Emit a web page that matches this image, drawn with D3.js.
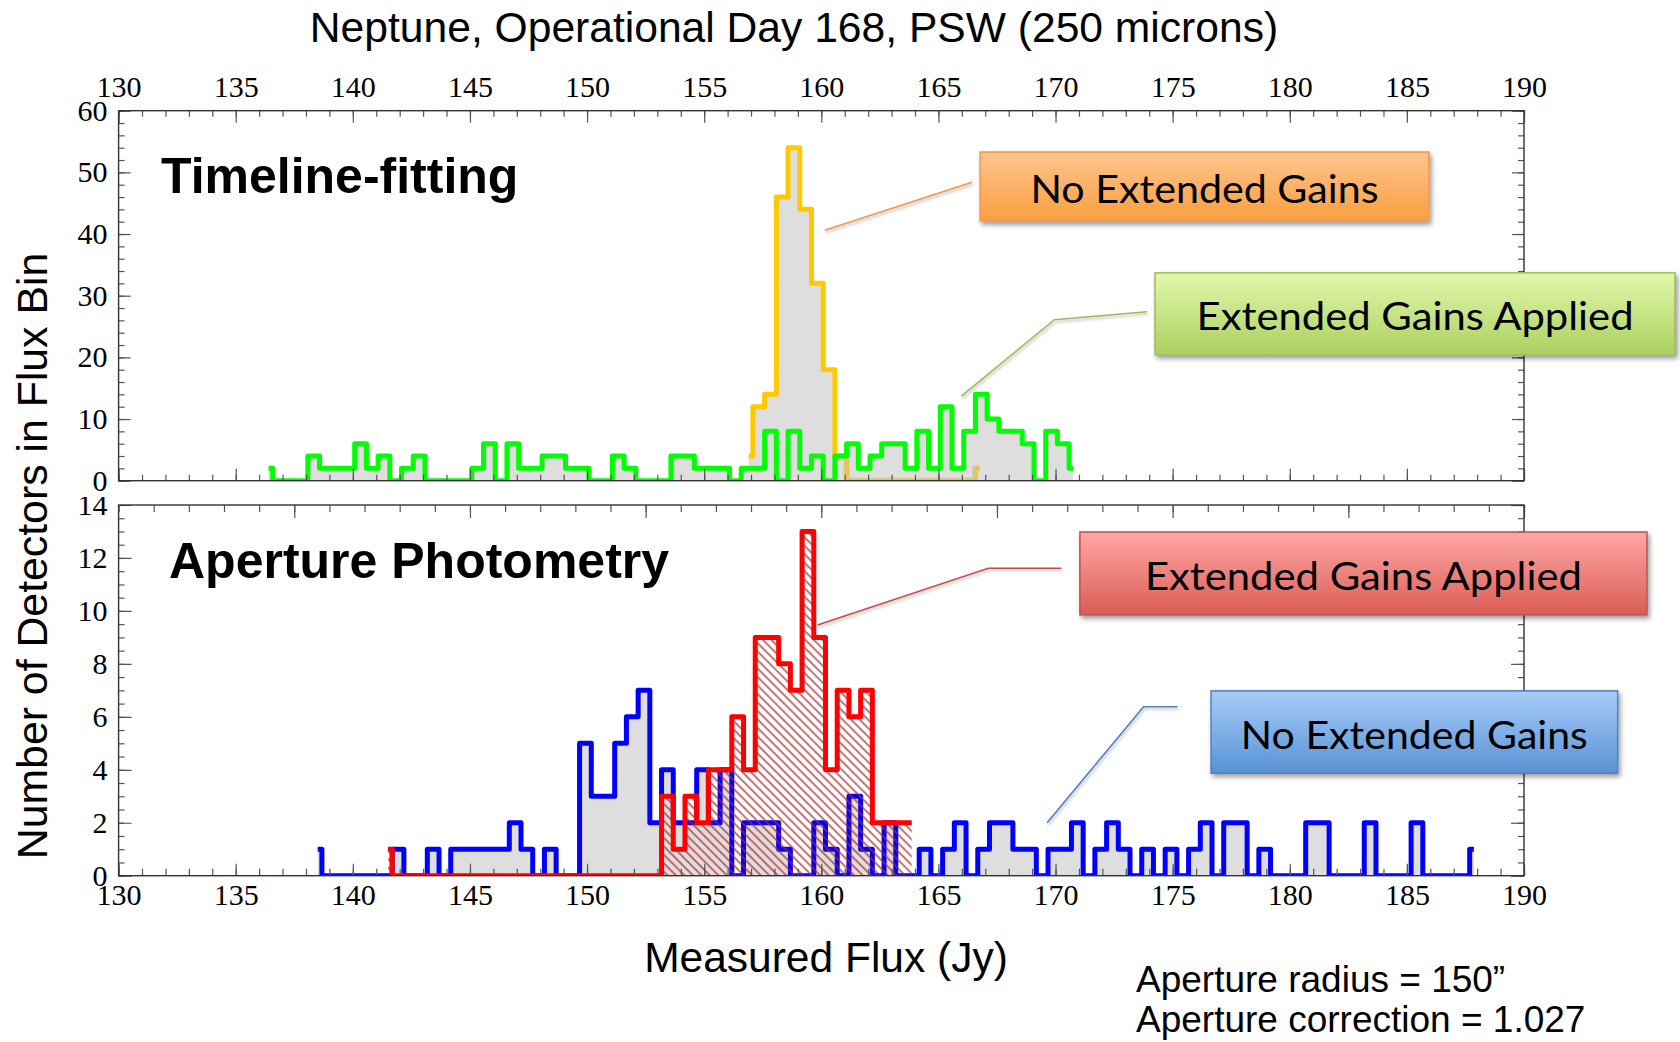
<!DOCTYPE html>
<html>
<head>
<meta charset="utf-8">
<script src="https://d3js.org/d3.v7.min.js"></script>
<style>
  body{margin:0;background:#fff;}
  svg{display:block;}
</style>
</head>
<body>
<div id="chart"></div>
<script>
// all histograms use 0.5 Jy bins; *Start = left edge of the first bin
var binWidth = 0.5;

// Timeline-fitting, extended gains applied (green)
var tlGainsStart = 136.08;
var tlGains = [2,0,0,0,4,2,2,2,6,2,4,0,2,4,0,0,0,0,2,6,0,6,2,2,4,4,2,2,0,0,
               4,2,0,0,0,4,4,2,2,2,0,2,2,8,0,8,2,4,0,4,6,2,4,6,6,2,8,2,12,2,
               8,14,10,8,8,6,0,8,6,2];
// Timeline-fitting, no extended gains (orange)
var tlNoGainsStart = 156.58;
var tlNoGains = [4,12,14,46,54,44,32,18,4,0,0,0,0,0,0,0,0,0,0,0,2];

// Aperture photometry, no extended gains (blue)
var apNoGainsStart = 138.18;
var apNoGains = [1,0,0,0,0,0,0,1,0,0,1,0,1,1,1,1,1,2,1,0,1,0,0,5,3,3,5,6,7,2,
                 4,2,2,4,2,4,0,2,2,2,1,0,0,2,1,0,3,1,0,2,0,0,1,0,1,2,0,1,2,2,
                 1,1,0,1,1,2,0,1,2,1,0,1,0,1,0,1,2,0,2,2,0,1,0,0,0,2,2,0,0,0,
                 2,0,0,0,2,0,0,0,0,1];
// Aperture photometry, extended gains applied (red, hatched)
var apGainsStart = 141.18;
var apGains = [1,0,0,0,0,0,0,0,0,0,0,0,0,0,0,0,0,0,0,0,0,0,0,0,3,1,3,2,4,4,
               6,4,9,9,8,7,13,9,4,7,6,7,2,2,2,2];

var fluxTicks = [130,135,140,145,150,155,160,165,170,175,180,185,190];
var topCountTicks = [0,10,20,30,40,50,60];
var botCountTicks = [0,2,4,6,8,10,12,14];

// callout boxes, in data units of their panel: [x0, x1, yTop, yBottom]
var callouts = [
  {panel:"top", text:"No Extended Gains", box:[166.78,185.94,53.3,42.1],
   leader:[[160.15,40.6],[166.43,48.4]], c0:"#FFC58F", c1:"#F99E3E", border:"#F79646", len:348},
  {panel:"top", text:"Extended Gains Applied", box:[174.25,196.45,33.7,20.4],
   leader:[[165.98,13.7],[169.95,26.1],[173.91,27.4]], c0:"#E2F8AC", c1:"#ABD05F", border:"#9BBB59", len:437},
  {panel:"bot", text:"Extended Gains Applied", box:[171.04,195.25,12.98,9.85],
   leader:[[159.84,9.47],[167.13,11.61],[170.25,11.61]], c0:"#FFA8A5", c1:"#DA5C55", border:"#C0504D", len:437},
  {panel:"bot", text:"No Extended Gains", box:[176.64,194.0,6.98,3.87],
   leader:[[169.64,2.0],[173.76,6.38],[175.21,6.38]], c0:"#A8CCF7", c1:"#5792D6", border:"#4F81BD", len:347}
];

var svg = d3.select("#chart").append("svg").attr("width",1680).attr("height",1042);
var defs = svg.append("defs");

var x = d3.scaleLinear().domain([130,190]).range([118.6,1524]);
var yTop = d3.scaleLinear().domain([0,60]).range([480.7,110.7]);
var yBot = d3.scaleLinear().domain([0,14]).range([875.7,505]);

// points for a step outline; first and last bin only drawn as a short stub
function stepPoints(start, vals){
  var stub = 0.18, pts = [];
  pts.push([start + binWidth - stub, vals[0]]);
  for (var i = 1; i < vals.length; i++) pts.push([start + i*binWidth, vals[i]]);
  pts.push([start + (vals.length-1)*binWidth + stub, vals[vals.length-1]]);
  return pts;
}
function stepLine(y){
  return d3.line().curve(d3.curveStepAfter).x(function(d){return x(d[0]);}).y(function(d){return y(d[1]);});
}
function stepArea(y){
  return d3.area().curve(d3.curveStepAfter).x(function(d){return x(d[0]);}).y0(y(0)).y1(function(d){return y(d[1]);});
}

// defs: clips, hatch, shadows, mask
defs.append("clipPath").attr("id","clipTop").append("rect")
  .attr("x",x(130)).attr("y",yTop(60)).attr("width",x(190)-x(130)).attr("height",yTop(0)-yTop(60));
defs.append("clipPath").attr("id","clipBot").append("rect")
  .attr("x",x(130)).attr("y",yBot(14)).attr("width",x(190)-x(130)).attr("height",yBot(0)-yBot(14));
// the top panel hides the upper part of the "14" label (coords local to the left axis group)
defs.append("clipPath").attr("id","clipBotLabels").append("rect")
  .attr("x",-x(130)).attr("y",yBot(14)-8).attr("width",x(130)+30).attr("height",1042);

var hatch = defs.append("pattern").attr("id","hatch").attr("width",6).attr("height",6)
  .attr("patternUnits","userSpaceOnUse").attr("patternTransform","rotate(-45)");
hatch.append("line").attr("x1",3).attr("y1",-1).attr("x2",3).attr("y2",7)
  .attr("stroke","#b02828").attr("stroke-width",1.3);

var sh = defs.append("filter").attr("id","shadow").attr("x","-10%").attr("y","-20%").attr("width","130%").attr("height","160%");
sh.append("feDropShadow").attr("dx",2).attr("dy",3).attr("stdDeviation",2.5).attr("flood-color","#000").attr("flood-opacity",0.4);
var sh2 = defs.append("filter").attr("id","shadow2").attr("x","-10%").attr("y","-30%").attr("width","130%").attr("height","180%");
sh2.append("feDropShadow").attr("dx",1).attr("dy",2).attr("stdDeviation",1.5).attr("flood-color","#000").attr("flood-opacity",0.3);

callouts.forEach(function(c,i){
  var g = defs.append("linearGradient").attr("id","grad"+i).attr("x1",0).attr("y1",0).attr("x2",0).attr("y2",1);
  g.append("stop").attr("offset","0%").attr("stop-color",c.c0);
  g.append("stop").attr("offset","100%").attr("stop-color",c.c1);
});

var greenPts = stepPoints(tlGainsStart, tlGains);
var orangePts = stepPoints(tlNoGainsStart, tlNoGains);
var bluePts = stepPoints(apNoGainsStart, apNoGains);
var redPts = stepPoints(apGainsStart, apGains);
var lw = 5;

// orange outline where it sits under the green fill is washed out
defs.append("mask").attr("id","orangeMask").attr("maskUnits","userSpaceOnUse")
  .attr("x",0).attr("y",0).attr("width",1680).attr("height",1042)
  .append("path").attr("d",stepLine(yTop)(orangePts))
  .attr("fill","none").attr("stroke","#fff").attr("stroke-width",lw+1.5);

// ---------- bottom panel ----------
var botPanel = svg.append("g");
var botData = botPanel.append("g").attr("clip-path","url(#clipBot)");
botData.append("path").attr("d",stepArea(yBot)(bluePts)).attr("fill","#dedede");
botData.append("path").attr("d",stepLine(yBot)(bluePts)).attr("fill","none")
  .attr("stroke","#0000ff").attr("stroke-width",lw).attr("stroke-linejoin","round");
botData.append("path").attr("d",stepArea(yBot)(redPts)).attr("fill","url(#hatch)");
botData.append("path").attr("d",stepLine(yBot)(redPts)).attr("fill","none")
  .attr("stroke","#ff0000").attr("stroke-width",lw).attr("stroke-linejoin","round");

// ---------- top panel ----------
var topPanel = svg.append("g");
var topData = topPanel.append("g").attr("clip-path","url(#clipTop)");
topData.append("path").attr("d",stepArea(yTop)(orangePts)).attr("fill","#dedede");
topData.append("path").attr("d",stepArea(yTop)(greenPts)).attr("fill","#dedede");
topData.append("path").attr("d",stepLine(yTop)(orangePts)).attr("fill","none")
  .attr("stroke","#ffc800").attr("stroke-width",lw).attr("stroke-linejoin","round");
topData.append("path").attr("d",stepArea(yTop)(greenPts)).attr("fill","rgb(196,196,196)")
  .attr("fill-opacity",0.5).attr("mask","url(#orangeMask)");
topData.append("path").attr("d",stepLine(yTop)(greenPts)).attr("fill","none")
  .attr("stroke","#00ff00").attr("stroke-width",lw).attr("stroke-linejoin","round");

// ---------- frames and ticks ----------
function styleAxis(g){
  g.select(".domain").remove();
  g.selectAll(".tick line").attr("stroke","#555").attr("stroke-width",1.2);
  g.attr("font-family","'Liberation Serif', 'Times New Roman', serif").attr("font-size",30);
  g.selectAll(".tick text").attr("fill","#000");
}
function addAxis(parent, axis, tx, ty){
  return parent.append("g").attr("transform","translate("+tx+","+ty+")").call(axis).call(styleAxis);
}

var minorFlux = d3.range(130,190.001,1);
var topMinorCount = d3.range(0,60.001,2);
var botMinorCount = d3.range(0,14.001,0.5);
var botTopMinor = d3.range(130,190.001,1.5);
var botTopMajor = d3.range(137.5,190.001,7.5);

// top panel
addAxis(topPanel, d3.axisTop(x).tickValues(minorFlux).tickSize(-6).tickFormat(""), 0, yTop(60));
addAxis(topPanel, d3.axisTop(x).tickValues(fluxTicks).tickSize(-12).tickPadding(14).tickFormat(d3.format("d")), 0, yTop(60));
addAxis(topPanel, d3.axisBottom(x).tickValues(minorFlux).tickSize(-6).tickFormat(""), 0, yTop(0));
addAxis(topPanel, d3.axisBottom(x).tickValues(fluxTicks).tickSize(-12).tickFormat(""), 0, yTop(0));
addAxis(topPanel, d3.axisLeft(yTop).tickValues(topMinorCount).tickSize(-6).tickFormat(""), x(130), 0);
addAxis(topPanel, d3.axisLeft(yTop).tickValues(topCountTicks).tickSize(-12).tickPadding(11).tickFormat(d3.format("d")), x(130), 0);
addAxis(topPanel, d3.axisRight(yTop).tickValues(topMinorCount).tickSize(-6).tickFormat(""), x(190), 0);
addAxis(topPanel, d3.axisRight(yTop).tickValues(topCountTicks).tickSize(-12).tickFormat(""), x(190), 0);
topPanel.append("rect").attr("x",x(130)).attr("y",yTop(60)).attr("width",x(190)-x(130)).attr("height",yTop(0)-yTop(60))
  .attr("fill","none").attr("stroke","#333").attr("stroke-width",1.4);

// bottom panel
addAxis(botPanel, d3.axisTop(x).tickValues(botTopMinor).tickSize(-7).tickFormat(""), 0, yBot(14));
addAxis(botPanel, d3.axisTop(x).tickValues(botTopMajor).tickSize(-13).tickFormat(""), 0, yBot(14));
addAxis(botPanel, d3.axisBottom(x).tickValues(minorFlux).tickSize(-7).tickFormat(""), 0, yBot(0));
addAxis(botPanel, d3.axisBottom(x).tickValues(fluxTicks).tickSize(-12).tickPadding(8).tickFormat(d3.format("d")), 0, yBot(0));
addAxis(botPanel, d3.axisLeft(yBot).tickValues(botMinorCount).tickSize(-6).tickFormat(""), x(130), 0);
addAxis(botPanel, d3.axisLeft(yBot).tickValues(botCountTicks).tickSize(-13).tickPadding(11).tickFormat(d3.format("d")), x(130), 0)
  .attr("clip-path","url(#clipBotLabels)");
addAxis(botPanel, d3.axisRight(yBot).tickValues(botMinorCount).tickSize(-6).tickFormat(""), x(190), 0);
addAxis(botPanel, d3.axisRight(yBot).tickValues(botCountTicks).tickSize(-13).tickFormat(""), x(190), 0);
botPanel.append("rect").attr("x",x(130)).attr("y",yBot(14)).attr("width",x(190)-x(130)).attr("height",yBot(0)-yBot(14))
  .attr("fill","none").attr("stroke","#333").attr("stroke-width",1.4);

// ---------- texts ----------
var sans = "'Liberation Sans', Arial, Helvetica, sans-serif";
svg.append("text").attr("x",794).attr("y",42).attr("text-anchor","middle")
  .attr("font-family",sans).attr("font-size",42.6).text("Neptune, Operational Day 168, PSW (250 microns)");
svg.append("text").attr("transform","translate(47,556) rotate(-90)").attr("text-anchor","middle")
  .attr("font-family",sans).attr("font-size",42.8).text("Number of Detectors in Flux Bin");
svg.append("text").attr("x",826).attr("y",972).attr("text-anchor","middle")
  .attr("font-family",sans).attr("font-size",42.5).text("Measured Flux (Jy)");
svg.append("text").attr("x",1136).attr("y",992)
  .attr("font-family",sans).attr("font-size",37).text("Aperture radius = 150\u201d");
svg.append("text").attr("x",1136).attr("y",1032)
  .attr("font-family",sans).attr("font-size",37).text("Aperture correction = 1.027");

svg.append("text").attr("x",161).attr("y",193).attr("font-family",sans).attr("font-weight","bold")
  .attr("font-size",50).text("Timeline-fitting");
svg.append("text").attr("x",169).attr("y",578).attr("font-family",sans).attr("font-weight","bold")
  .attr("font-size",50).text("Aperture Photometry");

// ---------- callouts ----------
callouts.forEach(function(c,i){
  var y = c.panel == "top" ? yTop : yBot;
  var g = svg.append("g");
  g.append("path")
    .attr("d", d3.line().x(function(d){return x(d[0]);}).y(function(d){return y(d[1]);})(c.leader))
    .attr("fill","none").attr("stroke",c.border).attr("stroke-width",1.6).attr("filter","url(#shadow2)");
  var x0 = x(c.box[0]), x1 = x(c.box[1]), y0 = y(c.box[2]), y1 = y(c.box[3]);
  g.append("rect").attr("x",x0).attr("y",y0).attr("width",x1-x0).attr("height",y1-y0)
    .attr("fill","url(#grad"+i+")").attr("stroke",c.border).attr("stroke-width",1.5).attr("filter","url(#shadow)");
  g.append("text").attr("x",(x0+x1)/2).attr("y",(y0+y1)/2+16.5).attr("text-anchor","middle")
    .attr("font-family","Lato, 'Open Sans', sans-serif").attr("font-size",39)
    .attr("textLength",c.len).attr("lengthAdjust","spacingAndGlyphs").attr("fill","#000").text(c.text);
});
</script>
</body>
</html>
